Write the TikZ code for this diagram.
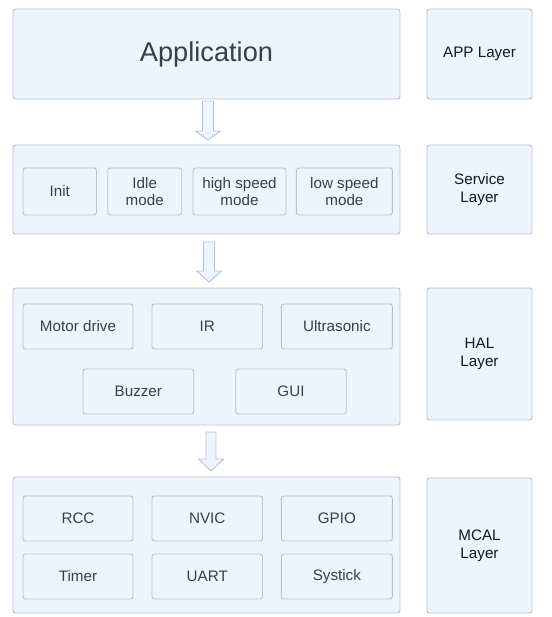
\documentclass[tikz,border=0pt]{standalone}
\usepackage{fontspec}
\setmainfont{Liberation Sans}
\definecolor{boxfill}{HTML}{EDF4FE}
\definecolor{boxline}{HTML}{BCC1C8}
\definecolor{txt}{HTML}{3A3F46}
\definecolor{laytxt}{HTML}{15181C}
\begin{document}
\begin{tikzpicture}[x=1pt,y=-1pt,
  base/.style={draw=boxline, fill=boxfill, line width=0.9pt, rounded corners=2.5pt,
    inner sep=0pt, outer sep=0pt, align=center, text=txt,
    font=\fontsize{15.2}{17.6}\selectfont},
  outer/.style={base, minimum width=387pt},
  layer/.style={base, minimum width=105pt, text=laytxt},
  item/.style={base, minimum height=45pt},
  blockarrow/.style={draw=boxline, fill=boxfill, line width=0.9pt, line join=round}
]
\useasboundingbox (0,0) rectangle (551,617);
% APP
\node[outer, minimum height=90pt, font=\fontsize{27.2}{31}\selectfont] (app) at (206.5,54) {Application};
\node[layer, minimum height=90pt] (appL) at (479.5,54) {APP Layer};
% Service
\node[outer, minimum height=89pt] (srv) at (206.5,189.5) {};
\node[layer, minimum height=89pt] (srvL) at (479.5,189.5) {Service\\Layer};
\node[base, minimum width=73.5pt, minimum height=47pt] (init) at (59.75,191.5) {Init};
\node[base, minimum width=74pt, minimum height=47pt] (idle) at (144.75,191.5) {Idle\\mode};
\node[base, minimum width=93pt, minimum height=47pt] (high) at (239.5,191.5) {high speed\\mode};
\node[base, minimum width=96pt, minimum height=47pt] (low) at (344.4,191.5) {low speed\\mode};
% HAL
\node[outer, minimum height=137pt] (hal) at (206.5,356.5) {};
\node[layer, minimum height=132pt] (halL) at (479.5,354) {HAL\\Layer};
\node[item, minimum width=110pt] (motor) at (78,326.5) {Motor drive};
\node[item, minimum width=110.5pt] (ir) at (207.25,326.5) {IR};
\node[item, minimum width=111pt] (ultra) at (336.85,326.5) {Ultrasonic};
\node[item, minimum width=110.7pt] (buzz) at (138.35,391.5) {Buzzer};
\node[item, minimum width=110.5pt] (gui) at (291,391.5) {GUI};
% MCAL
\node[outer, minimum height=136pt] (mcal) at (206.5,545) {};
\node[layer, minimum height=135pt] (mcalL) at (479.5,545.5) {MCAL\\Layer};
\node[item, minimum width=110pt] (rcc) at (78,518.5) {RCC};
\node[item, minimum width=110.5pt] (nvic) at (207.25,518.5) {NVIC};
\node[item, minimum width=111pt] (gpio) at (336.85,518.5) {GPIO};
\node[item, minimum width=110pt] (timer) at (78,576.5) {Timer};
\node[item, minimum width=110.5pt] (uart) at (207.25,576.5) {UART};
\node[item, minimum width=111pt] (systick) at (336.85,576.5) {Systick};
% block arrows
\coordinate (a1) at (208,101);
\draw[blockarrow] ([xshift=-5.5pt]a1) -- ++(0,30) -- ++(-7,0) -- ++(12.5,9) -- ++(12.5,-9) -- ++(-7,0) -- ++(0,-30) -- cycle;
\coordinate (a2) at (209,242);
\draw[blockarrow] ([xshift=-5.5pt]a2) -- ++(0,29) -- ++(-7,0) -- ++(12.5,11) -- ++(12.5,-11) -- ++(-7,0) -- ++(0,-29) -- cycle;
\coordinate (a3) at (211,432);
\draw[blockarrow] ([xshift=-5pt]a3) -- ++(0,27) -- ++(-7.5,0) -- ++(12.5,12) -- ++(12.5,-12) -- ++(-7.5,0) -- ++(0,-27) -- cycle;
\end{tikzpicture}
\end{document}
